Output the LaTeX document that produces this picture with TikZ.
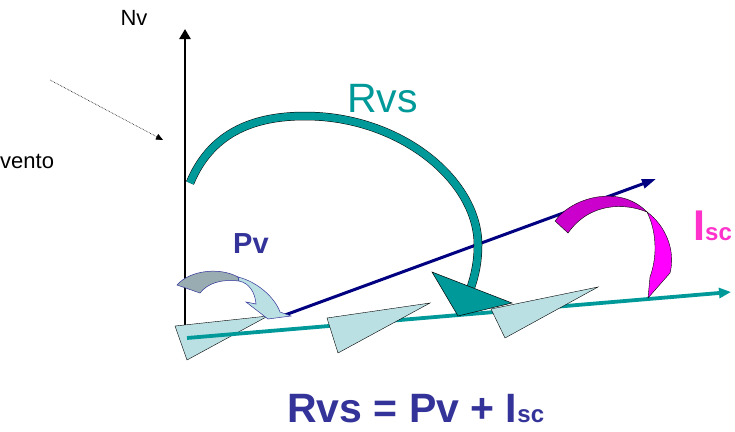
\documentclass[tikz,border=0pt]{standalone}
\usepackage{fontspec}
\setmainfont{Liberation Sans}
\usetikzlibrary{arrows.meta}
\definecolor{rvsteal}{HTML}{009999}
\definecolor{pvnavy}{HTML}{000080}
\definecolor{labelblue}{HTML}{333399}
\definecolor{wedgeblue}{HTML}{BBE0E3}
\definecolor{pvgrey}{HTML}{98ACB2}
\definecolor{iscdark}{HTML}{CC00CC}
\definecolor{iscbright}{HTML}{FF00FF}
\definecolor{isclabel}{HTML}{FF33CC}
\newcommand{\fsz}[1]{\fontsize{#1}{#1}\selectfont}

\begin{document}
\begin{tikzpicture}[
  x=1pt, y=-1pt,
  lbl/.style={inner sep=0pt, anchor=base west},
  wedge/.style={draw=black, line width=0.4pt, fill=wedgeblue},
  axisarrow/.style={-{Triangle[length=10pt, width=11pt]}, line width=2.8pt},
  band/.style={draw=black, line width=0.5pt, double=rvsteal, double distance=7.5pt},
  ribbon/.style={draw=labelblue, line width=0.5pt}
]
  \useasboundingbox (0,0) rectangle (735,431);

  % points
  \coordinate (axisfoot) at (185,330);
  \coordinate (axistop) at (185,29);
  \coordinate (windfrom) at (50,80);
  \coordinate (windto) at (163,140);
  \coordinate (navyfrom) at (285,315);
  \coordinate (navyto) at (656,179);
  \coordinate (tealfrom) at (187,338);
  \coordinate (tealto) at (731,292);

  % labels
  \node[lbl, anchor=base] (nv) at (134,25) {\fsz{22}Nv};
  \node[lbl] (vento) at (0,168) {\fsz{22}vento};
  \node[lbl, text=rvsteal] (rvs) at (347,112) {\fsz{41}Rvs};
  \node[lbl, text=labelblue, font=\bfseries] (pv) at (233,253) {\fsz{29}Pv};
  \node[lbl, text=isclabel, font=\bfseries] (isc) at (693,240)
    {\fsz{43}I\fsz{24}sc};
  \node[lbl, text=labelblue, font=\bfseries] (formula) at (287,422)
    {\fsz{41}Rvs = Pv + I\fsz{24}sc};

  % axis and wind
  \draw[axisarrow] (axisfoot) -- (axistop);
  \draw[densely dotted, line width=0.6pt, -{Triangle[length=7pt, width=6pt]}]
    (windfrom) -- (windto);

  % wedges and lines
  \filldraw[wedge] (175,326) -- (268,316) -- (187,360) -- cycle;
  \draw[rvsteal, line width=3.8pt, -{Triangle[length=12pt, width=10pt]}]
    (tealfrom) -- (tealto);
  \draw[pvnavy, line width=3pt, -{Triangle[length=14pt, width=9pt]}]
    (navyfrom) -- (navyto);
  \filldraw[wedge] (327,318) -- (430,303) -- (338,353) -- cycle;
  \filldraw[wedge] (491,309) -- (598,287) -- (505,338) -- cycle;

  % Rvs
  \draw[band] (190,183) .. controls (210,135) and (250,116) .. (305,116)
    .. controls (400,116) and (478,180) .. (478,245)
    .. controls (478,262) and (475,275) .. (471,287);
  \filldraw[draw=black, line width=0.5pt, fill=rvsteal]
    (432,272) -- (512,303) -- (458,316) -- cycle;

  % Pv
  \filldraw[ribbon, fill=pvgrey] (177,285) .. controls (190,270) and (220,267) .. (238,277)
    -- (239,281) .. controls (221,279) and (208,283) .. (200,293) -- cycle;
  \filldraw[ribbon, fill=wedgeblue] (238,277) .. controls (258,282) and (275,298) .. (280,312)
    -- (291,316) -- (268,319) -- (246,302) -- (256,304)
    .. controls (255,292) and (249,283) .. (239,281) -- cycle;

  % Isc
  \filldraw[draw=black, line width=0.4pt, fill=iscbright]
    (647,212) .. controls (665,225) and (676,250) .. (670,273)
    -- (648,298) -- (650,277) .. controls (658,255) and (656,230) .. (647,212) -- cycle;
  \filldraw[draw=black, line width=0.4pt, fill=iscdark]
    (555,221) .. controls (572,197) and (620,184) .. (647,212)
    .. controls (625,203) and (590,202) .. (568,233) -- cycle;
\end{tikzpicture}
\end{document}
